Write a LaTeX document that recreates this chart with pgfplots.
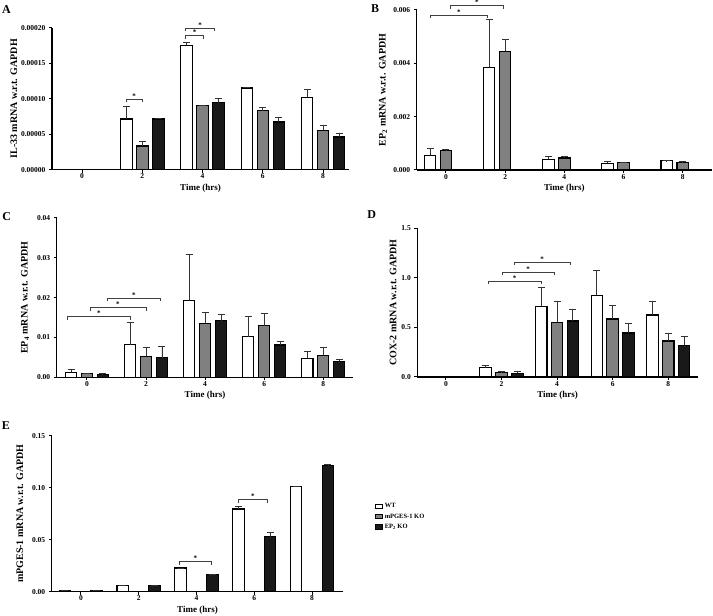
\documentclass[border=0pt]{standalone}
\usepackage{fontspec}
\setmainfont{Liberation Serif}
\usepackage{pgfplots}
\pgfplotsset{compat=1.18}

\newcommand{\sig}[3]{\draw[line width=0.7pt, black!75] (axis cs:#1,#3) ++(0pt,-3pt) -- (axis cs:#1,#3) -- node[above, inner sep=0.5pt, font=\fontsize{7}{7}\selectfont\bfseries, text=black]{*} (axis cs:#2,#3) -- ++(0pt,-3pt);}

\pgfplotsset{
  prism/.style={
    scale only axis, anchor=south west,
    axis lines=left, axis line style={-, line width=1.2pt},
    tick align=outside, major tick length=3pt, tick style={line width=1pt, black},
    xtick={0,2,4,6,8}, xmin=-1, xmax=9, ymin=0,
    clip=false, scaled y ticks=false,
    /pgf/number format/assume math mode=true,
    ticklabel style={font=\fontsize{7.5}{8}\selectfont\bfseries},
    xticklabel style={inner sep=1pt},
    xlabel={Time (hrs)},
    xlabel style={font=\fontsize{9}{10}\selectfont\bfseries, at={(axis description cs:0.5,0)}, anchor=center, yshift=-18.5pt},
    ylabel style={font=\fontsize{10}{11}\selectfont\bfseries, anchor=center},
  },
  bars/.style={ybar, bar shift=0pt, bar width=11.5pt, draw=black, line width=1.1pt,
    error bars/y dir=plus, error bars/y explicit,
    error bars/error bar style={line width=0.9pt, black!80},
    error bars/error mark options={rotate=90, line width=0.9pt, mark size=3.5pt, black!80}},
  wt/.style={bars, fill=white},
  ko/.style={bars, fill=black!50},
  ep/.style={bars, fill=black!90},
}

\begin{document}
\begin{tikzpicture}[x=1pt,y=1pt]
\path[use as bounding box] (0,0) rectangle (713,616);

% Panel letters
\node[font=\fontsize{12}{12}\selectfont\bfseries] at (6.5,606) {A};
\node[font=\fontsize{12}{12}\selectfont\bfseries] at (375,607.7) {B};
\node[font=\fontsize{12}{12}\selectfont\bfseries] at (6.7,399.3) {C};
\node[font=\fontsize{12}{12}\selectfont\bfseries] at (371.7,401) {D};
\node[font=\fontsize{12}{12}\selectfont\bfseries] at (6,190) {E};

% ---------------- A ----------------
\begin{axis}[prism, at={(52pt,446.3pt)}, width=297pt, height=141.7pt,
  xmax=8.86, ymax=0.0002,
  ytick={0,0.00005,0.0001,0.00015,0.0002},
  yticklabels={0.00000,0.00005,0.00010,0.00015,0.00020},
  ylabel={IL-33 mRNA w.r.t. GAPDH},
  ylabel style={at={(axis description cs:-0.128,0.5)}}]
\addplot[wt] coordinates {(1.47,7.16e-5) +- (0,1.8e-5) (3.47,1.756e-4) +- (0,4.2e-6) (5.47,1.153e-4) +- (0,1e-6) (7.47,1.022e-4) +- (0,1.13e-5)};
\addplot[ko] coordinates {(2,3.34e-5) +- (0,6e-6) (4,9.03e-5) +- (0,0) (6,8.33e-5) +- (0,4.7e-6) (8,5.56e-5) +- (0,7e-6)};
\addplot[ep] coordinates {(2.53,7.16e-5) +- (0,1e-6) (4.53,9.46e-5) +- (0,6.6e-6) (6.53,6.73e-5) +- (0,6.6e-6) (8.53,4.62e-5) +- (0,5.6e-6)};
\sig{1.46}{2.0}{0.0000994}
\sig{3.43}{4.04}{0.0001891}
\sig{3.43}{4.40}{0.0001996}
\end{axis}

% ---------------- B ----------------
\begin{axis}[prism, at={(416.7pt,446pt)}, width=295.3pt, height=160pt,
  xmin=-0.99, xmax=8.99, ymax=0.006,
  ytick={0,0.002,0.004,0.006},
  yticklabels={0.000,0.002,0.004,0.006},
  ylabel={EP\textsubscript{2} mRNA w.r.t. GAPDH},
  ylabel style={at={(axis description cs:-0.114,0.5)}}]
\addplot[wt] coordinates {(-0.54,0.00055) +- (0,0.00026) (1.46,0.00385) +- (0,0.00179) (3.46,0.0004) +- (0,0.000125) (5.46,0.00026) +- (0,0.00005) (7.46,0.00034) +- (0,0.00001)};
\addplot[ko] coordinates {(0,0.000724) +- (0,0.00006) (2,0.00445) +- (0,0.00044) (4,0.00045) +- (0,0.00005) (6,0.000275) +- (0,0.00002) (8,0.000275) +- (0,0.00003)};
\sig{-0.54}{1.41}{0.0058}
\sig{0.135}{1.95}{0.00616}
\end{axis}

% ---------------- C ----------------
\begin{axis}[prism, at={(56.7pt,238.7pt)}, width=296.6pt, height=159.3pt,
  xmin=-1.026, xmax=9.02, ymax=0.04,
  ytick={0,0.01,0.02,0.03,0.04},
  yticklabels={0.00,0.01,0.02,0.03,0.04},
  ylabel={EP\textsubscript{4} mRNA w.r.t. GAPDH},
  ylabel style={at={(axis description cs:-0.107,0.5)}}]
\addplot[wt] coordinates {(-0.54,0.00126) +- (0,0.00075) (1.46,0.0082) +- (0,0.0055) (3.46,0.0192) +- (0,0.0117) (5.46,0.0102) +- (0,0.005) (7.46,0.00477) +- (0,0.0017)};
\addplot[ko] coordinates {(0,0.0009) +- (0,0.00015) (2,0.00527) +- (0,0.0022) (4,0.01357) +- (0,0.0027) (6,0.0129) +- (0,0.0032) (8,0.00553) +- (0,0.002)};
\addplot[ep] coordinates {(0.54,0.00075) +- (0,0.0001) (2.54,0.00493) +- (0,0.0028) (4.54,0.01415) +- (0,0.00175) (6.54,0.0081) +- (0,0.0009) (8.54,0.004) +- (0,0.0004)};
\sig{-0.65}{1.46}{0.01523}
\sig{0.10}{2.0}{0.0175}
\sig{0.70}{2.48}{0.0199}
\end{axis}

% ---------------- D ----------------
\begin{axis}[prism, at={(417.3pt,239pt)}, width=280.7pt, height=148.7pt,
  xmin=-1.03, xmax=9.07, ymax=1.5,
  ytick={0,0.5,1,1.5},
  yticklabels={0.0,0.5,1.0,1.5},
  ylabel={COX-2 mRNA w.r.t. GAPDH},
  ylabel style={at={(axis description cs:-0.086,0.5)}}]
\addplot[wt] coordinates {(1.43,0.094) +- (0,0.02) (3.43,0.713) +- (0,0.195) (5.43,0.824) +- (0,0.255) (7.43,0.625) +- (0,0.139)};
\addplot[ko] coordinates {(2,0.047) +- (0,0.007) (4,0.552) +- (0,0.215) (6,0.585) +- (0,0.138) (8,0.363) +- (0,0.078)};
\addplot[ep] coordinates {(2.57,0.037) +- (0,0.016) (4.57,0.565) +- (0,0.114) (6.57,0.444) +- (0,0.094) (8.57,0.32) +- (0,0.09)};
\sig{1.52}{3.42}{0.965}
\sig{2.02}{3.90}{1.056}
\sig{2.45}{4.48}{1.16}
\end{axis}

% ---------------- E ----------------
\begin{axis}[prism, at={(51.7pt,24.3pt)}, width=291.6pt, height=156pt,
  xmin=-1.01, xmax=9.08, ymax=0.15,
  ytick={0,0.05,0.1,0.15},
  yticklabels={0.00,0.05,0.10,0.15},
  ylabel={mPGES-1 mRNA w.r.t. GAPDH},
  ylabel style={at={(axis description cs:-0.109,0.5)}},
  legend style={at={(rel axis cs:1.109,0.58)}, anchor=north west, draw=none, fill=none,
    font=\fontsize{6.5}{7.5}\selectfont\bfseries, row sep=0.6pt, inner sep=0pt,
    cells={anchor=west}},
  legend image code/.code={\draw[#1, line width=0.8pt] (0pt,-2.2pt) rectangle (6.7pt,2.2pt);}]
\addplot[wt, forget plot] coordinates {(-0.55,0.001) +- (0,0) (1.45,0.0058) +- (0,0) (3.45,0.0228) +- (0,0) (5.45,0.0795) +- (0,0.0022) (7.45,0.101) +- (0,0.0003)};
\addplot[ep, forget plot] coordinates {(0.55,0.001) +- (0,0) (2.55,0.0058) +- (0,0) (4.55,0.0163) +- (0,0.0005) (6.55,0.0529) +- (0,0.0042) (8.55,0.1211) +- (0,0.0014)};
\sig{3.39}{4.53}{0.0288}
\sig{5.44}{6.46}{0.0885}
\addlegendimage{fill=white, draw=black}
\addlegendentry{WT}
\addlegendimage{fill=black!50, draw=black}
\addlegendentry{mPGES-1 KO}
\addlegendimage{fill=black!90, draw=black}
\addlegendentry{EP\textsubscript{2} KO}
\end{axis}
\end{tikzpicture}
\end{document}
